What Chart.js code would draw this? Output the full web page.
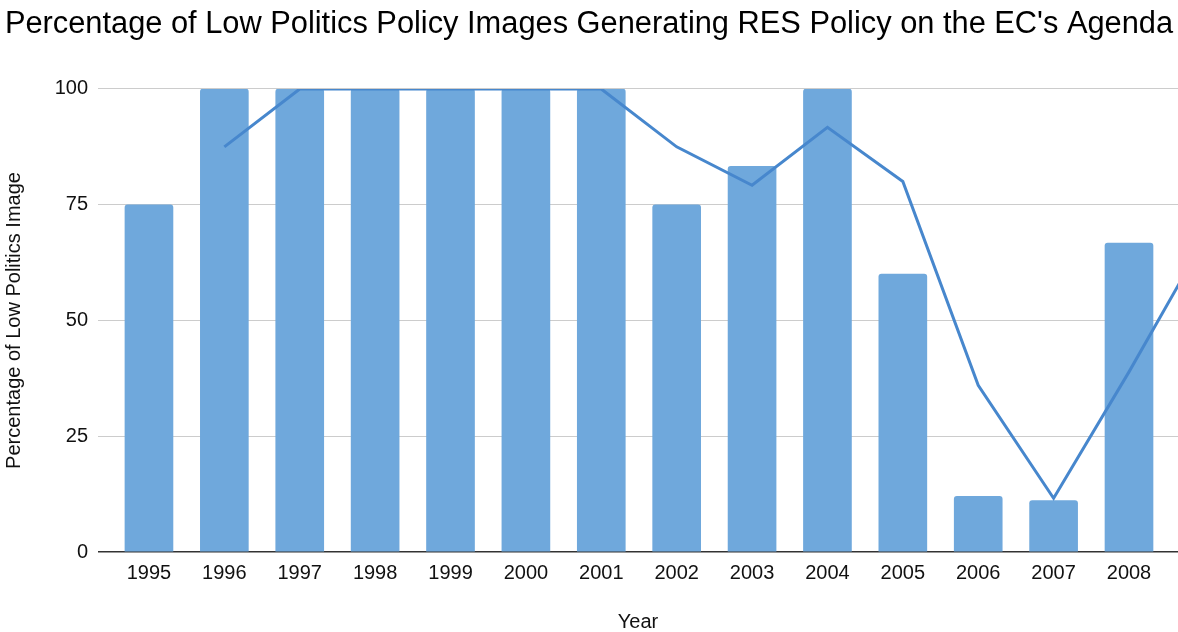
<!DOCTYPE html>
<html>
<head>
<meta charset="utf-8">
<title>Low Politics Policy Images</title>
<script src="https://cdn.jsdelivr.net/npm/chart.js@4.4.1/dist/chart.umd.min.js"></script>
<style>
  html, body { margin: 0; padding: 0; background: #fff; overflow: hidden; }
  #grafico { display: block; }
</style>
</head>
<body>
<canvas id="grafico" width="1178" height="632"></canvas>
<script>
// anos e valores (percentual de imagens de "low politics")
const anos = [1995, 1996, 1997, 1998, 1999, 2000, 2001, 2002, 2003, 2004, 2005, 2006, 2007, 2008];
const percentuais = [75, 100, 100, 100, 100, 100, 100, 75, 83.3, 100, 60, 12, 11.1, 66.7];

// linha de média móvel (2 períodos), continua além da borda direita
const anosMedia = [1996, 1997, 1998, 1999, 2000, 2001, 2002, 2003, 2004, 2005, 2006, 2007, 2008, 2009];
const mediaMovel = [87.5, 100, 100, 100, 100, 100, 87.5, 79.2, 91.7, 80, 36, 11.6, 38.9, 67.5];

const ticksY = [0, 25, 50, 75, 100];

const fonte = "'Liberation Sans', Arial, sans-serif";

var ctx = document.getElementById("grafico").getContext("2d");
var myChart = new Chart(ctx, {
    data: {
        datasets: [
            {
                type: "line",
                data: anosMedia.map((a, i) => ({ x: a, y: mediaMovel[i] })),
                borderColor: "#4787cd",
                borderWidth: 3,
                pointRadius: 0,
                tension: 0,
                order: 0
            },
            {
                type: "bar",
                data: anos.map((a, i) => ({ x: a, y: percentuais[i] })),
                backgroundColor: "#6fa8dc",
                barThickness: 48,
                borderRadius: { topLeft: 3, topRight: 3 },
                borderSkipped: "bottom",
                order: 1
            }
        ]
    },
    options: {
        responsive: false,
        animation: false,
        layout: { padding: 0 },
        plugins: {
            legend: { display: false },
            tooltip: { enabled: false },
            title: {
                display: true,
                text: "Percentage of Low Politics Policy Images Generating RES Policy on the EC's Agenda",
                color: "#000",
                font: { family: fonte, size: 30.8, weight: "normal", lineHeight: 1.2 },
                padding: { top: 6, bottom: 46 }
            }
        },
        scales: {
            x: {
                type: "linear",
                offset: false,
                min: 1994.324,
                max: 2008.65,
                afterBuildTicks: (scale) => {
                    scale.ticks = anos.map(a => ({ value: a }));
                },
                afterFit: (scale) => { scale.height = 80; },
                grid: { display: false, drawTicks: false, offset: false },
                border: { display: false },
                ticks: {
                    autoSkip: false,
                    maxRotation: 0,
                    padding: 9,
                    color: "#111",
                    font: { family: fonte, size: 20 },
                    callback: (v) => String(v)
                },
                title: {
                    display: true,
                    text: "Year",
                    color: "#111",
                    font: { family: fonte, size: 20, lineHeight: 1.0 },
                    padding: { top: 4, bottom: 0 }
                }
            },
            y: {
                min: 0,
                max: 100,
                afterBuildTicks: (scale) => {
                    scale.ticks = ticksY.map(v => ({ value: v }));
                },
                afterFit: (scale) => { scale.width = 98; },
                grid: {
                    drawTicks: false,
                    color: (c) => c.tick && c.tick.value === 0 ? "#333" : "#ccc",
                    lineWidth: (c) => c.tick && c.tick.value === 0 ? 1.5 : 1
                },
                border: { display: false },
                ticks: {
                    padding: 10,
                    color: "#111",
                    font: { family: fonte, size: 20 }
                },
                title: {
                    display: true,
                    text: "Percentage of Low Politics Image",
                    color: "#111",
                    font: { family: fonte, size: 20 },
                    padding: { top: 2, bottom: 0 }
                }
            }
        }
    }
});
</script>
</body>
</html>
